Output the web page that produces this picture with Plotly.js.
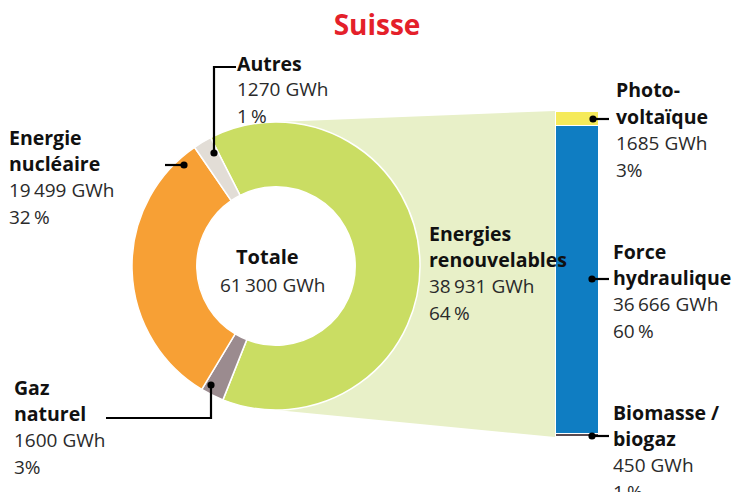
<!DOCTYPE html>
<html><head><meta charset="utf-8">
<script src="https://cdn.plot.ly/plotly-3.0.1.min.js"></script>
<style>html,body{margin:0;padding:0;background:#fff}</style>
</head><body><div id="chart" style="width:736px;height:492px"></div>
<script>
// ---- data ----
const sources = ['Autres', 'Energie nucléaire', 'Gaz naturel', 'Energies renouvelables'];
const sourceValues = [1270, 19499, 1600, 38931];
const sourcePercents = ['1\u2009%', '32\u2009%', '3%', '64\u2009%'];

const renewCats = ['Photovoltaïque', 'Force hydraulique', 'Biomasse / biogaz'];
const renewValues = [1685, 36666, 450];
const renewPercents = ['3%', '60\u2009%', '1\u2009%'];

const titleText = 'Suisse';
const totalLabel = 'Totale';

// ---- styles ----
const sourceColors = ['#e2ddd6', '#f7a035', '#9b8b8f', '#cadd63'];
const renewColors = ['#f5ea5a', '#0f7dc2', '#5a4a50'];
const W = 736, H = 492;
const FONT = 'Open Sans, Noto Sans, sans-serif';

function fmt(v) {
  const s = String(v);
  return s.length > 4 ? s.slice(0, s.length - 3) + '\u2009' + s.slice(-3) : s;
}
const px = (x) => x / W;
const py = (y) => 1 - y / H;

// pie geometry (pixels)
const pieCx = 276, pieCy = 266, pieR = 144, holeFrac = 0.55;
const pieDomX = [px(pieCx - pieR), px(pieCx + pieR)];
const pieDomY = [py(pieCy + pieR), py(pieCy - pieR)];
// bar geometry (pixels)
const barL = 555, barRgt = 599, barTop = 111, barBot = 437;
const barDomX = [px(barL), px(barRgt)];
const barDomY = [py(barBot), py(barTop)];

const renewIdx = sources.indexOf('Energies renouvelables');
const order = [renewIdx, 2, 1, 0];
const pieTrace = {
  type: 'pie',
  labels: order.map(i => sources[i]),
  values: order.map(i => sourceValues[i]),
  marker: { colors: order.map(i => sourceColors[i]), line: { color: '#ffffff', width: 1.5 } },
  hole: holeFrac, sort: false, direction: 'clockwise', rotation: -27,
  textinfo: 'none', hoverinfo: 'none', showlegend: false,
  domain: { x: pieDomX, y: pieDomY }
};

const barTraces = renewCats.map((c, i) => ({
  type: 'bar', name: c, x: [0], y: [renewValues[i]],
  marker: { color: renewColors[i], line: { color: '#ffffff', width: 1.2 } },
  width: 1, hoverinfo: 'none', showlegend: false
})).reverse();

const renewTotal = renewValues.reduce((a, b) => a + b, 0);
const grandTotal = sourceValues.reduce((a, b) => a + b, 0);

// connector polygon from donut to bar, plus white disc to keep the hole clear
const holeR = pieR * holeFrac;
const shapes = [{
  type: 'path', xref: 'paper', yref: 'paper', layer: 'below',
  path: `M${px(pieCx)},${pieDomY[1]} L${barDomX[0]},${barDomY[1]} L${barDomX[0]},${barDomY[0]} L${px(pieCx)},${pieDomY[0]} Z`,
  fillcolor: '#e8f0c8', line: { width: 0 }
}, {
  type: 'circle', xref: 'paper', yref: 'paper', layer: 'below',
  x0: px(pieCx - holeR), x1: px(pieCx + holeR), y0: py(pieCy + holeR), y1: py(pieCy - holeR),
  fillcolor: '#ffffff', line: { width: 0 }
}];

function leader(points) {
  const d = points.map((p, k) => (k ? 'L' : 'M') + px(p[0]) + ',' + py(p[1])).join(' ');
  shapes.push({ type: 'path', xref: 'paper', yref: 'paper', path: d, line: { color: '#000', width: 2.2 } });
  const [dx, dy] = points[0];
  const r = 3.6;
  shapes.push({ type: 'circle', xref: 'paper', yref: 'paper', x0: px(dx - r), x1: px(dx + r), y0: py(dy + r), y1: py(dy - r),
    fillcolor: '#000', line: { width: 0 } });
}
leader([[214, 153], [214, 67], [236, 67]]);
leader([[184, 165], [165, 165]]);
leader([[211, 385], [211, 418], [106, 418]]);
leader([[593, 119], [609, 119]]);
leader([[592, 279], [609, 279]]);
leader([[592, 436], [609, 436]]);

const annotations = [];
function label(x, y0, lines, step) {
  step = step || 26.5;
  lines.forEach((ln, k) => {
    annotations.push({
      xref: 'paper', yref: 'paper', x: px(x - 3), y: py(y0 + k * step),
      xanchor: 'left', yanchor: 'middle', showarrow: false,
      text: ln.b ? '<b>' + ln.t + '</b>' : ln.t,
      font: { family: FONT, size: ln.b ? 19.5 : 19, color: ln.b ? '#111' : '#2a2a2a' }
    });
  });
}
const B = (t) => ({ t, b: true }), R = (t) => ({ t, b: false });
label(238, 63, [B('Autres'), R(fmt(sourceValues[0]) + ' GWh'), R(sourcePercents[0])]);
label(10, 137, [B('Energie'), B('nucléaire'), R(fmt(sourceValues[1]) + ' GWh'), R(sourcePercents[1])]);
label(15, 387, [B('Gaz'), B('naturel'), R(fmt(sourceValues[2]) + ' GWh'), R(sourcePercents[2])]);
label(430, 233, [B('Energies'), B('renouvelables'), R(fmt(sourceValues[3]) + ' GWh'), R(sourcePercents[3])]);
label(617, 90, [B('Photo-'), B('voltaïque'), R(fmt(renewValues[0]) + ' GWh'), R(renewPercents[0])]);
label(614, 251, [B('Force'), B('hydraulique'), R(fmt(renewValues[1]) + ' GWh'), R(renewPercents[1])]);
label(614, 412, [B('Biomasse /'), B('biogaz'), R(fmt(renewValues[2]) + ' GWh'), R(renewPercents[2])]);

annotations.push({ xref: 'paper', yref: 'paper', x: px(267), y: py(256), xanchor: 'center', yanchor: 'middle', showarrow: false,
  text: '<b>' + totalLabel + '</b>', font: { family: FONT, size: 20, color: '#111' } });
annotations.push({ xref: 'paper', yref: 'paper', x: px(272), y: py(285), xanchor: 'center', yanchor: 'middle', showarrow: false,
  text: fmt(grandTotal) + ' GWh', font: { family: FONT, size: 19, color: '#2a2a2a' } });

const layout = {
  width: W, height: H,
  margin: { l: 0, r: 0, t: 0, b: 0 },
  paper_bgcolor: '#fff', plot_bgcolor: 'rgba(0,0,0,0)',
  title: { text: '<b>' + titleText + '</b>', x: px(377), xanchor: 'center', y: py(25), yanchor: 'middle',
    font: { family: FONT, size: 28, color: '#e4202a' } },
  barmode: 'stack', bargap: 0,
  xaxis: { domain: barDomX, range: [-0.5, 0.5], visible: false, fixedrange: true },
  yaxis: { domain: barDomY, range: [0, renewTotal], visible: false, fixedrange: true },
  showlegend: false,
  shapes, annotations
};

Plotly.newPlot('chart', [pieTrace, ...barTraces], layout, { staticPlot: true });
</script>
</body></html>
